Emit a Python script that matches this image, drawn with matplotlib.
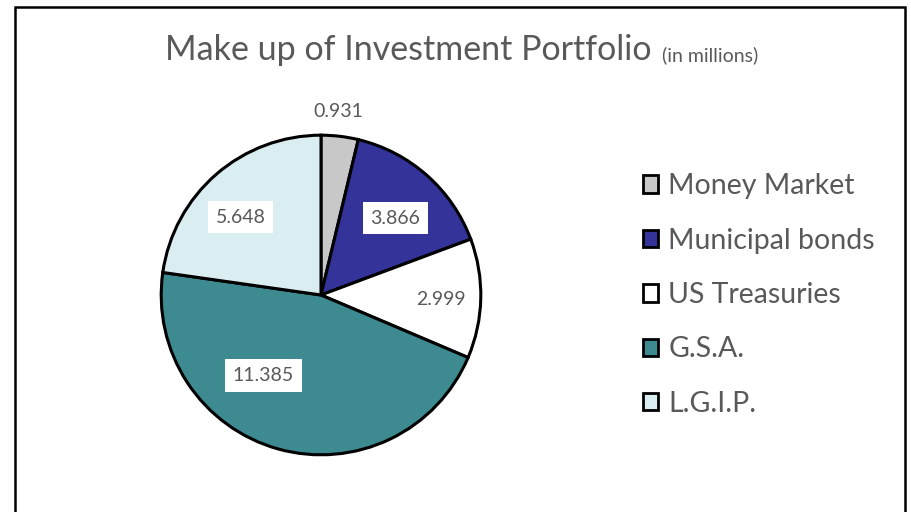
import numpy as np
import matplotlib.pyplot as plt
from matplotlib.patches import Rectangle

categories = ["Money Market", "Municipal bonds", "US Treasuries", "G.S.A.", "L.G.I.P."]
values = [0.931, 3.866, 2.999, 11.385, 5.648]
labels = ["0.931", "3.866", "2.999", "11.385", "5.648"]
colors = ["#c8c8c8", "#333399", "#ffffff", "#3d8a91", "#daedf0"]

plt.rcParams['font.family'] = ['Lato', 'DejaVu Sans']
txt = "#595959"

fig = plt.figure(figsize=(9.12, 5.12), dpi=100)

# chart border (bottom is cut off in the screenshot)
fig.add_artist(Rectangle((15/912, -0.05), 890/912, (512-7)/512 + 0.05, transform=fig.transFigure,
                         fill=False, edgecolor="black", linewidth=1.8))

fig.text(652/912, 1 - 50/512, "Make up of Investment Portfolio", ha="right", va="center",
         fontsize=24.5, color=txt)
fig.text(662/912, 1 - 55/512, "(in millions)", ha="left", va="center", fontsize=14, color=txt)

ax = fig.add_axes([158/912, 54/512, 326/912, 326/512])
wedges, _ = ax.pie(values, colors=colors, startangle=90, counterclock=False,
                   wedgeprops=dict(edgecolor="black", linewidth=2.2))
ax.set_aspect("equal")
ax.set_xlim(-1.02, 1.02)
ax.set_ylim(-1.02, 1.02)
ax.axis("off")

# label placement (Excel best fit)
label_r = [1.15, 0.67, 0.75, 0.62, 0.70]
label_shift = [1.5, -2.5, -0.8, -20, 5]
for w, lab, r, sh in zip(wedges, labels, label_r, label_shift):
    ang = np.deg2rad((w.theta1 + w.theta2) / 2 + sh)
    x, y = r * np.cos(ang), r * np.sin(ang)
    if r > 1:
        ax.text(x, y, lab, ha="center", va="center", fontsize=14, color=txt, clip_on=False)
    elif lab == "2.999":
        ax.text(x, y, lab, ha="center", va="center", fontsize=14, color=txt)
    else:
        ax.text(x, y, lab, ha="center", va="center", fontsize=14, color=txt,
                bbox=dict(boxstyle="square,pad=0.4", facecolor="white", edgecolor="none"))

handles = [Rectangle((0, 0), 1, 1, facecolor=c, edgecolor="black", linewidth=2) for c in colors]
leg = fig.legend(handles, categories, loc="center left", bbox_to_anchor=(617/912, 1 - 295/512),
                 frameon=False, fontsize=20.5, labelcolor=txt, handlelength=0.55, handleheight=0.55,
                 handletextpad=0.35, labelspacing=1.0)

fig.savefig("out.png", dpi=100)
